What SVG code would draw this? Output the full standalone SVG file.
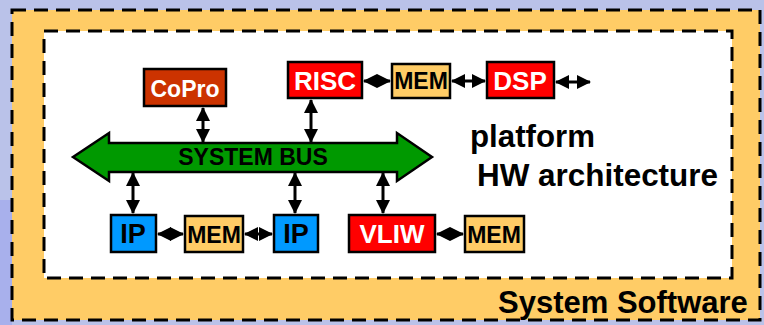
<svg xmlns="http://www.w3.org/2000/svg" width="764" height="325" viewBox="0 0 764 325">
<style>
.box{stroke:#000;stroke-width:2.5}
.w{fill:#fff;font-family:"Liberation Sans",Arial,sans-serif;font-weight:bold;text-anchor:middle}
.b{fill:#000;font-family:"Liberation Sans",Arial,sans-serif;font-weight:bold}
.c{stroke:#000;stroke-width:3;fill:none}
</style>
<defs>
<marker id="ah" viewBox="0 0 14 14" refX="13" refY="7" markerUnits="userSpaceOnUse" markerWidth="14" markerHeight="14" orient="auto-start-reverse">
<path d="M0,0 L14,7 L0,14 z" fill="#000"/>
</marker>
</defs>
<rect x="0" y="0" width="764" height="325" fill="#BAC2E9"/>
<rect x="0" y="200" width="12" height="125" fill="#A8B0EC"/>
<g id="system-software">
<rect x="12" y="10" width="748" height="310" fill="#FFCC66" stroke="#000" stroke-width="3" stroke-dasharray="14,8"/>
<text class="b" x="498" y="313" font-size="31">System Software</text>
</g>
<g id="platform">
<rect x="44" y="31" width="688" height="247" fill="#fff" stroke="#000" stroke-width="3" stroke-dasharray="14,8"/>
<text class="b" x="470" y="147" font-size="31" textLength="125" lengthAdjust="spacingAndGlyphs">platform</text>
<text class="b" x="477" y="186" font-size="31" textLength="241" lengthAdjust="spacingAndGlyphs">HW architecture</text>
</g>
<g id="bus">
<polygon points="73,157 109,133 109,143 397,143 397,133 432,157 397,181 397,172 109,172 109,181" fill="#009900" stroke="#000" stroke-width="2.5"/>
<text class="b" x="253" y="165" font-size="23" text-anchor="middle">SYSTEM BUS</text>
</g>
<g id="connectors">
<line class="c" x1="203" y1="108" x2="203" y2="142" marker-start="url(#ah)" marker-end="url(#ah)"/>
<line class="c" x1="311" y1="100" x2="311" y2="142" marker-start="url(#ah)" marker-end="url(#ah)"/>
<line class="c" x1="133" y1="173" x2="133" y2="213" marker-start="url(#ah)" marker-end="url(#ah)"/>
<line class="c" x1="295" y1="173" x2="295" y2="213" marker-start="url(#ah)" marker-end="url(#ah)"/>
<line class="c" x1="383" y1="173" x2="383" y2="213" marker-start="url(#ah)" marker-end="url(#ah)"/>
<line class="c" x1="364" y1="81" x2="390" y2="81" marker-start="url(#ah)" marker-end="url(#ah)"/>
<line class="c" x1="452" y1="81" x2="485" y2="81" marker-start="url(#ah)" marker-end="url(#ah)"/>
<line class="c" x1="556" y1="82" x2="590" y2="82" marker-start="url(#ah)" marker-end="url(#ah)"/>
<line class="c" x1="158" y1="234" x2="183" y2="234" marker-start="url(#ah)" marker-end="url(#ah)"/>
<line class="c" x1="245" y1="234" x2="272" y2="234" marker-start="url(#ah)" marker-end="url(#ah)"/>
<line class="c" x1="437" y1="234" x2="463" y2="234" marker-start="url(#ah)" marker-end="url(#ah)"/>
</g>
<g id="copro">
<rect class="box" x="144" y="69" width="82" height="37" fill="#CC3300"/>
<text class="w" x="185" y="97" font-size="23">CoPro</text>
</g>
<g id="risc">
<rect class="box" x="288" y="62" width="74" height="36" fill="#FF0000"/>
<text class="w" x="325" y="90" font-size="26">RISC</text>
</g>
<g id="mem-top">
<rect class="box" x="392" y="64" width="58" height="34" fill="#FFCC66"/>
<text class="b" x="421" y="89" font-size="23" text-anchor="middle">MEM</text>
</g>
<g id="dsp">
<rect class="box" x="487" y="62" width="67" height="36" fill="#FF0000"/>
<text class="w" x="520" y="90" font-size="26">DSP</text>
</g>
<g id="ip1">
<rect class="box" x="111" y="215" width="45" height="37" fill="#0099FF"/>
<text class="b" x="133" y="243" font-size="27" text-anchor="middle">IP</text>
</g>
<g id="mem-ip">
<rect class="box" x="185" y="216" width="58" height="36" fill="#FFCC66"/>
<text class="b" x="214" y="243" font-size="23" text-anchor="middle">MEM</text>
</g>
<g id="ip2">
<rect class="box" x="274" y="215" width="44" height="37" fill="#0099FF"/>
<text class="b" x="296" y="243" font-size="27" text-anchor="middle">IP</text>
</g>
<g id="vliw">
<rect class="box" x="349" y="215" width="86" height="37" fill="#FF0000"/>
<text class="w" x="392" y="243" font-size="26">VLIW</text>
</g>
<g id="mem-vliw">
<rect class="box" x="465" y="216" width="59" height="36" fill="#FFCC66"/>
<text class="b" x="494" y="243" font-size="23" text-anchor="middle">MEM</text>
</g>
</svg>
